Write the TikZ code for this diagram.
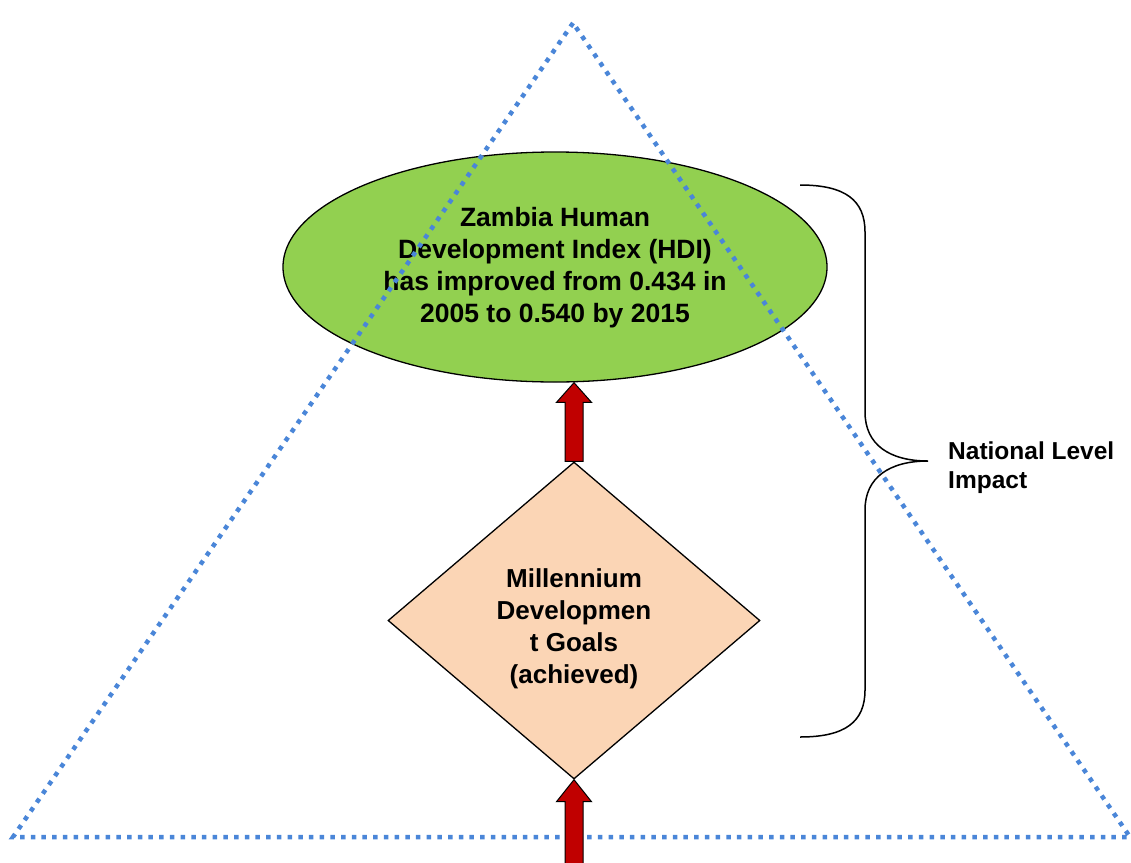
\documentclass[tikz,border=0pt]{standalone}
\usepackage{fontspec}
\setmainfont{Liberation Sans}
\usetikzlibrary{shapes.geometric,calc}
\definecolor{hdigreen}{HTML}{92D050}
\definecolor{mdgpeach}{HTML}{FBD5B5}
\definecolor{arrowred}{HTML}{C00000}
\definecolor{dotblue}{RGB}{74,134,216}
\begin{document}
\begin{tikzpicture}[x=1pt,y=-1pt,
  txt/.style={font=\fontsize{26.5}{32}\selectfont\bfseries, align=center, text=black},
  shapeline/.style={draw=black, line width=1.3pt},
  tri/.style={draw=dotblue, line width=4.5pt, dash pattern=on 4.5pt off 6.2pt},
  blockarrow/.style={draw=black, line width=1pt, fill=arrowred, line join=miter},
  bracestyle/.style={draw=black, line width=1.5pt}]
\useasboundingbox (0,0) rectangle (1131,862);
% nodes
\node[ellipse, shapeline, fill=hdigreen, minimum width=544pt, minimum height=230pt, inner sep=0pt] (hdi) at (555,267) {};
\node[txt] (hditxt) at ($(hdi.center)+(0,1)$)
  {Zambia Human\\Development Index (HDI)\\has improved from 0.434 in\\2005 to 0.540 by 2015};
\node[diamond, shapeline, fill=mdgpeach, minimum width=372pt, minimum height=317pt, inner sep=0pt] (mdg) at (574,620.5) {};
\node[txt, font=\fontsize{26}{32}\selectfont\bfseries] (mdgtxt) at ($(mdg.center)+(0,8)$)
  {Millennium\\Developmen\\t Goals\\(achieved)};
% dotted triangle
\coordinate (apex) at (573,23);
\coordinate (bl) at (13,837);
\coordinate (br) at (1130,837);
\draw[tri] (apex) -- (bl) -- (br) -- cycle;
% block arrow MDG -> HDI
\draw[blockarrow] ($(mdg.north)+(-9,0)$) -- ($(mdg.north)+(-9,-59)$) -- ($(mdg.north)+(-17.5,-59)$)
  -- (mdg.north |- hdi.south) -- ($(mdg.north)+(17.5,-59)$) -- ($(mdg.north)+(9,-59)$)
  -- ($(mdg.north)+(9,0)$) -- cycle;
% block arrow from below into MDG
\coordinate (below) at (574,880);
\draw[blockarrow] ($(below)+(-9,0)$) -- ($(mdg.south)+(-9,22)$) -- ($(mdg.south)+(-17.5,22)$)
  -- (mdg.south) -- ($(mdg.south)+(17.5,22)$) -- ($(mdg.south)+(9,22)$) -- ($(below)+(9,0)$) -- cycle;
% brace
\coordinate (bt) at (800,185);
\coordinate (bb) at (800,737);
\coordinate (tip) at (928,461);
\draw[bracestyle] (bt) .. controls (845,185) and (865,200) .. (865,232) -- (865,412)
  .. controls (865,445) and (890,461) .. (tip)
  .. controls (890,461) and (865,477) .. (865,510) -- (865,690)
  .. controls (865,722) and (845,737) .. (bb);
\node[anchor=north west, inner sep=0pt, align=left, font=\fontsize{24.5}{29}\selectfont\bfseries] (lab) at (948,442)
  {National Level\\Impact};
\end{tikzpicture}
\end{document}
